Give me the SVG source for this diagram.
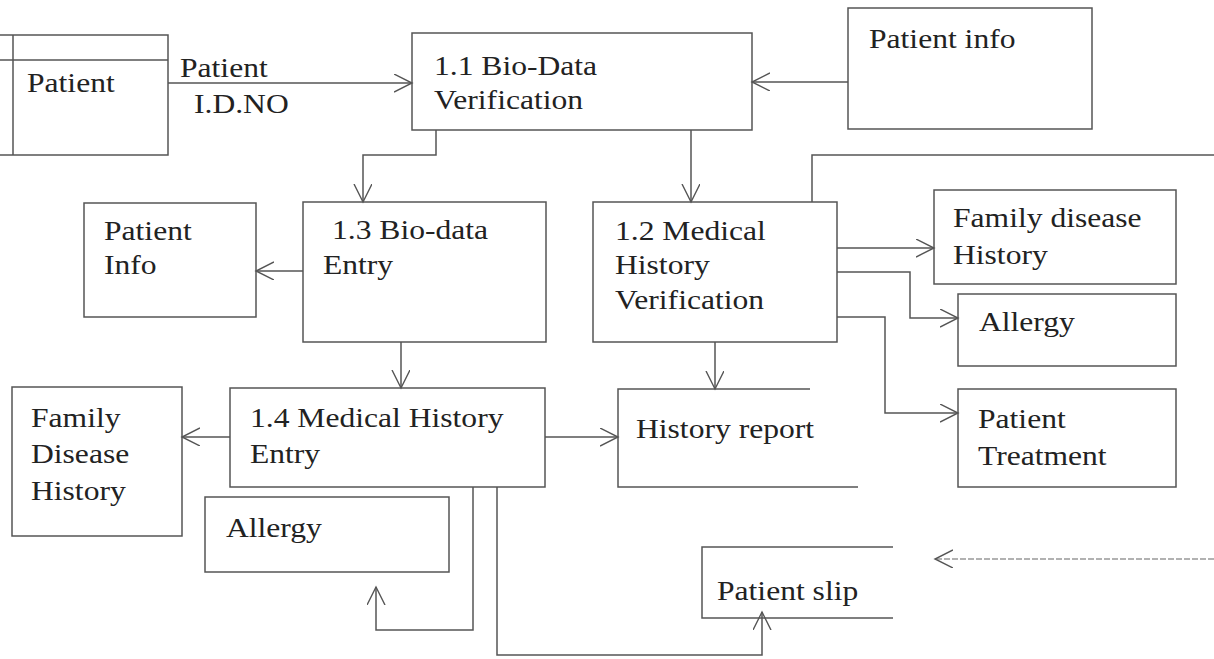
<svg xmlns="http://www.w3.org/2000/svg" width="1214" height="659" viewBox="0 0 1214 659">
  <style>
    .box { fill: none; stroke: #555; stroke-width: 1.5; }
    .flow { fill: none; stroke: #555; stroke-width: 1.5; }
    .faint { stroke: #999; stroke-dasharray: 6 2; }
    .lbl { font-family: "Liberation Serif", "Times New Roman", serif; font-size: 27px; fill: #222; }
  </style>
  <defs>
    <marker id="arrow" markerUnits="userSpaceOnUse" markerWidth="22" markerHeight="22" refX="18" refY="9" orient="auto">
      <path d="M0,0 L18,9 L0,18" fill="none" stroke="#555" stroke-width="1.4"/>
    </marker>
  </defs>
  <rect width="1214" height="659" fill="#ffffff"/>

  <!-- external entity -->
  <g id="patient">
    <path class="box" d="M0,35 H168 V155 H0 M0,60 H168 M13,35 V155"/>
    <text class="lbl" transform="translate(27,92) scale(1.17,1)">Patient</text>
  </g>

  <g id="bio-data-verification">
    <rect class="box" x="412" y="33" width="340" height="97"/>
    <text class="lbl" transform="translate(434,75) scale(1.17,1)">1.1 Bio-Data<tspan x="0" dy="34">Verification</tspan></text>
  </g>

  <g id="patient-info-store">
    <rect class="box" x="848" y="8" width="244" height="121"/>
    <text class="lbl" transform="translate(869,48) scale(1.17,1)">Patient info</text>
  </g>

  <g id="bio-data-entry">
    <rect class="box" x="303" y="202" width="243" height="140"/>
    <text class="lbl" transform="translate(332,239) scale(1.17,1)">1.3 Bio-data</text>
    <text class="lbl" transform="translate(323,274) scale(1.17,1)">Entry</text>
  </g>

  <g id="patient-info-entry">
    <rect class="box" x="84" y="203" width="172" height="114"/>
    <text class="lbl" transform="translate(104,240) scale(1.17,1)">Patient<tspan x="0" dy="34">Info</tspan></text>
  </g>

  <g id="medical-history-verification">
    <rect class="box" x="593" y="202" width="244" height="140"/>
    <text class="lbl" transform="translate(615,240) scale(1.17,1)">1.2 Medical<tspan x="0" dy="34">History</tspan><tspan x="0" dy="35">Verification</tspan></text>
  </g>

  <g id="family-disease-history-right">
    <rect class="box" x="934" y="190" width="242" height="94"/>
    <text class="lbl" transform="translate(953,227) scale(1.17,1)">Family disease<tspan x="0" dy="37">History</tspan></text>
  </g>

  <g id="allergy-right">
    <rect class="box" x="958" y="294" width="218" height="72"/>
    <text class="lbl" transform="translate(979,331) scale(1.17,1)">Allergy</text>
  </g>

  <g id="patient-treatment">
    <rect class="box" x="958" y="389" width="218" height="98"/>
    <text class="lbl" transform="translate(978,428) scale(1.17,1)">Patient<tspan x="0" dy="37">Treatment</tspan></text>
  </g>

  <g id="history-report">
    <path class="box" d="M810,389 H618 V487 H858"/>
    <text class="lbl" transform="translate(636,438) scale(1.17,1)">History report</text>
  </g>

  <g id="medical-history-entry">
    <rect class="box" x="230" y="388" width="315" height="99"/>
    <text class="lbl" transform="translate(250,427) scale(1.17,1)">1.4 Medical History<tspan x="0" dy="36">Entry</tspan></text>
  </g>

  <g id="family-disease-history-left">
    <rect class="box" x="12" y="387" width="170" height="149"/>
    <text class="lbl" transform="translate(31,427) scale(1.17,1)">Family<tspan x="0" dy="36">Disease</tspan><tspan x="0" dy="37">History</tspan></text>
  </g>

  <g id="allergy-bottom">
    <rect class="box" x="205" y="497" width="244" height="75"/>
    <text class="lbl" transform="translate(226,537) scale(1.17,1)">Allergy</text>
  </g>

  <g id="patient-slip">
    <path class="box" d="M893,547 H702 V618 H893"/>
    <text class="lbl" transform="translate(717,600) scale(1.17,1)">Patient slip</text>
  </g>

  <!-- data flows -->
  <g id="connectors">
    <path class="flow" d="M168,83 H412" marker-end="url(#arrow)"/>
    <text class="lbl" transform="translate(180,77) scale(1.17,1)">Patient</text>
    <text class="lbl" transform="translate(194,113) scale(1.17,1)">I.D.NO</text>
    <path class="flow" d="M848,82 H752" marker-end="url(#arrow)"/>
    <path class="flow" d="M436,130 V155 H363 V202" marker-end="url(#arrow)"/>
    <path class="flow" d="M691,130 V202" marker-end="url(#arrow)"/>
    <path class="flow" d="M303,271 H256" marker-end="url(#arrow)"/>
    <path class="flow" d="M812,202 V155 H1214"/>
    <path class="flow" d="M837,248 H934" marker-end="url(#arrow)"/>
    <path class="flow" d="M837,272 H910 V318 H958" marker-end="url(#arrow)"/>
    <path class="flow" d="M837,317 H885 V413 H958" marker-end="url(#arrow)"/>
    <path class="flow" d="M715,342 V389" marker-end="url(#arrow)"/>
    <path class="flow" d="M401,342 V388" marker-end="url(#arrow)"/>
    <path class="flow" d="M230,437 H182" marker-end="url(#arrow)"/>
    <path class="flow" d="M473,487 V630 H376 V587" marker-end="url(#arrow)"/>
    <path class="flow" d="M545,437 H618" marker-end="url(#arrow)"/>
    <path class="flow" d="M497,487 V655 H762 V612" marker-end="url(#arrow)"/>
    <path class="flow faint" d="M1214,559 H935" marker-end="url(#arrow)"/>
  </g>
</svg>
